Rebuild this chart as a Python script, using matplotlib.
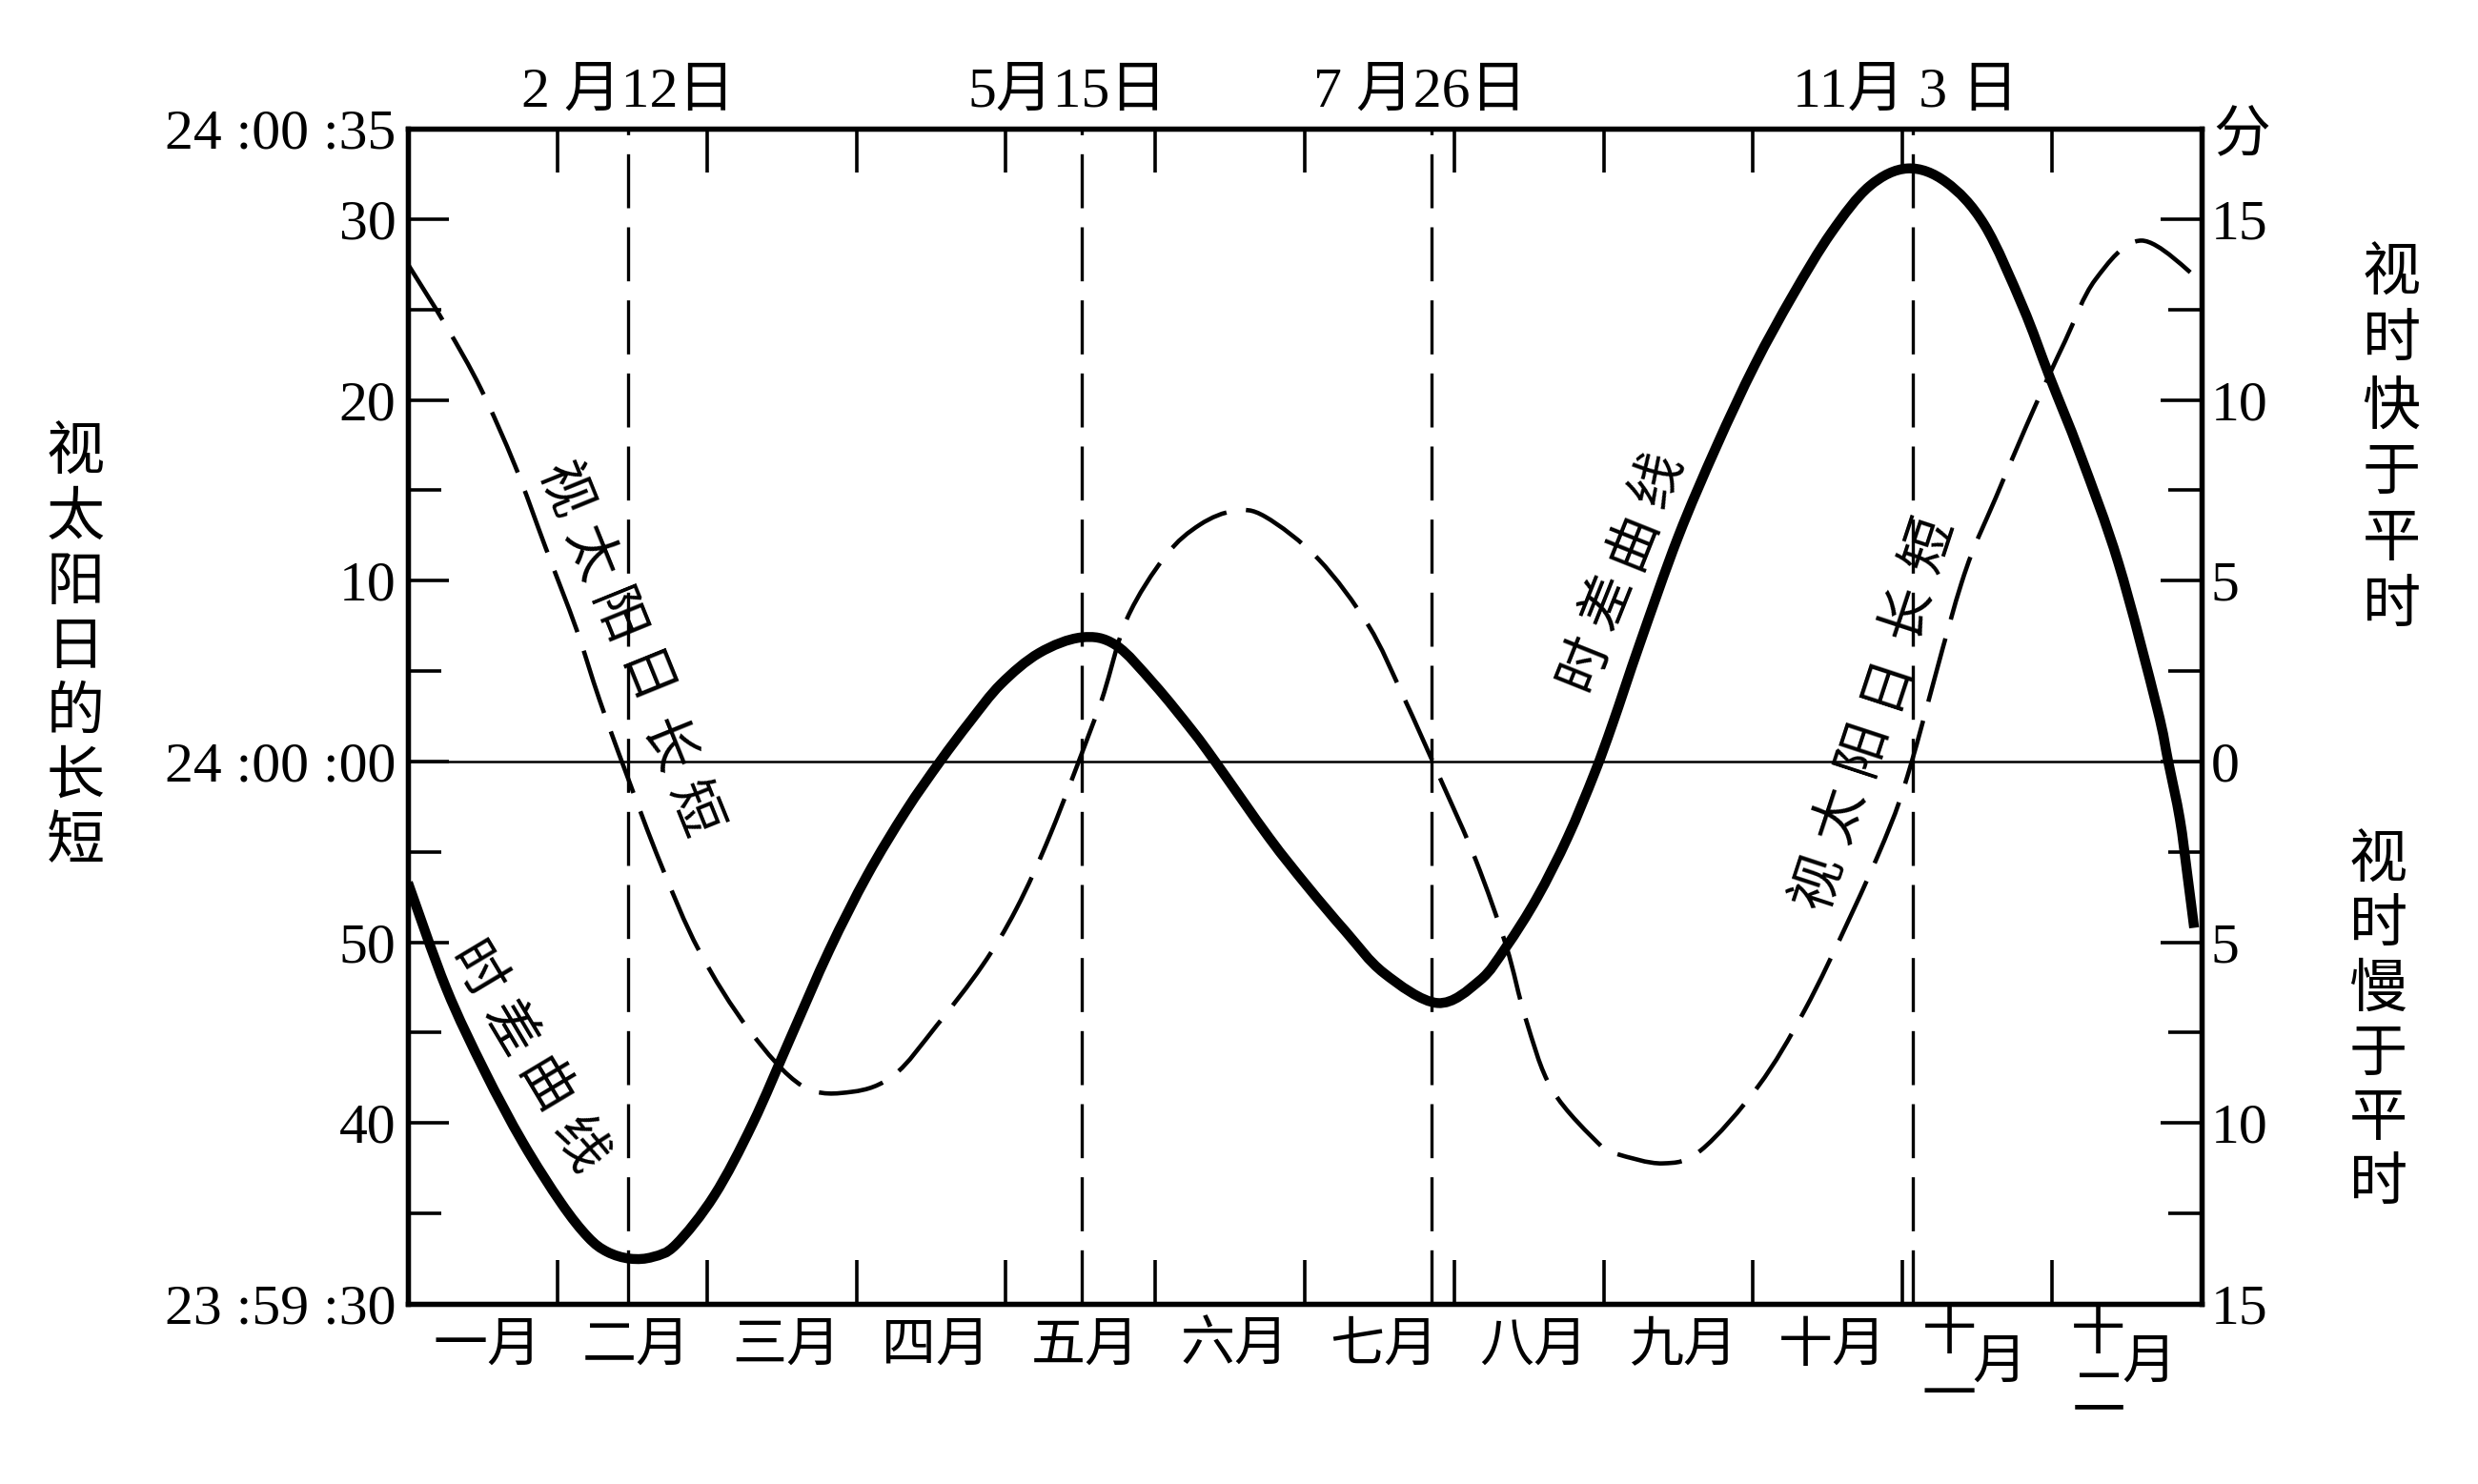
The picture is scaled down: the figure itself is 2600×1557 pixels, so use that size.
import numpy as np
import matplotlib
matplotlib.use("Agg")
import matplotlib.pyplot as plt
from matplotlib.path import Path
from matplotlib.patches import PathPatch

plt.rcParams['font.family'] = ['Liberation Serif', 'Noto Sans CJK SC']

# ---------------- data (x in month units: 0 = Jan 1, 12 = Dec 31) ----------------
# 时差曲线 : equation of time, minutes (right axis)
eot_month = [0.000, 0.256, 0.513, 0.769, 1.025, 1.204, 1.333, 1.486, 1.640, 1.793,
             2.050, 2.306, 2.562, 2.819, 3.074, 3.331, 3.560, 3.760, 3.967, 4.223,
             4.505, 4.735, 4.992, 5.248, 5.402, 5.760, 6.017, 6.273, 6.529, 6.888,
             7.170, 7.349, 7.554, 7.759, 7.938, 8.061, 8.241, 8.497, 8.753, 9.010,
             9.266, 9.522, 9.778, 10.034, 10.291, 10.547, 10.803, 10.983, 11.188, 11.444,
             11.701, 11.777, 11.854, 11.905, 11.950]
eot_minutes = [-3.35, -6.27, -8.56, -10.54, -12.21, -13.15, -13.56, -13.75, -13.70, -13.36,
               -12.00, -10.02, -7.62, -5.22, -3.14, -1.37, 0.00, 1.10, 2.14, 3.00,
               3.43, 3.22, 2.14, 0.85, -0.01, -2.10, -3.45, -4.70, -5.85, -6.68,
               -6.06, -5.12, -3.77, -2.10, -0.33, 1.06, 3.25, 6.20, 8.70, 10.96,
               12.90, 14.62, 15.91, 16.40, 16.02, 14.84, 12.58, 10.64, 8.49, 5.48,
               1.50, -0.01, -1.58, -3.14, -4.60]

# 视太阳日长短 : length of apparent solar day minus 24 h, seconds (left axis)
day_month = [0.000, 0.256, 0.487, 0.718, 0.922, 1.128, 1.281, 1.460, 1.691, 1.947,
             2.281, 2.639, 2.972, 3.254, 3.536, 3.843, 4.070, 4.300, 4.582, 4.659,
             4.813, 5.069, 5.299, 5.530, 5.735, 6.094, 6.427, 6.657, 6.913, 7.144,
             7.349, 7.477, 7.656, 7.985, 8.088, 8.395, 8.651, 9.035, 9.343, 9.650,
             9.906, 10.060, 10.394, 10.624, 10.881, 11.085, 11.290, 11.598, 11.982]
day_seconds = [27.5, 24.08, 20.63, 16.33, 11.81, 7.30, 3.43, -0.65, -5.66, -10.45,
               -14.83, -17.95, -18.27, -17.33, -14.62, -11.29, -8.16, -3.99, 2.06, 3.85,
               7.94, 11.38, 13.10, 13.86, 13.54, 11.17, 7.51, 3.64, -1.07, -5.45,
               -10.24, -14.20, -18.17, -21.29, -21.71, -22.23, -21.50, -17.95, -13.78, -8.58,
               -3.78, -0.03, 9.88, 14.61, 19.56, 23.22, 26.66, 28.81, 26.66]

month_labels = ['一月', '二月', '三月', '四月', '五月', '六月', '七月', '八月', '九月', '十月']
stacked_month_labels = [('十', '一', '月'), ('十', '二', '月')]

event_month = [1.47, 4.51, 6.85, 10.07]
event_labels = ['2 月12日', '5月15日', '7 月26日', '11月 3 日']
event_label_x = [1.473, 4.41, 6.77, 10.02]

left_ticks = [35, 30, 20, 10, 0, -10, -20, -30]
left_labels = ['24 :00 :35', '30', '20', '10', '24 :00 :00', '50', '40', '23 :59 :30']
left_minor = [25, 15, 5, -5, -15, -25]
right_ticks = [15, 10, 5, 0, -5, -10, -15]
right_labels = ['15', '10', '5', '0', '5', '10', '15']
right_minor = [12.5, 7.5, 2.5, -2.5, -7.5, -12.5]

left_title = '视太阳日的长短'
right_title_up = '视时快于平时'
right_title_down = '视时慢于平时'
unit_label = '分'

# ---------------- figure ----------------
W, H = 2600, 1557
fig = plt.figure(figsize=(W / 100, H / 100), dpi=100)
fig.patch.set_facecolor('white')
ax = fig.add_axes([428 / W, 1 - 1368 / H, (2310 - 428) / W, (1368 - 135) / H])
ax.set_xlim(0, 12)
ax.set_ylim(-30, 35)
ax2 = ax.twinx()
ax2.set_ylim(-15, 17.5)

for a in (ax, ax2):
    for s in a.spines.values():
        s.set_linewidth(3.8)
        s.set_color('black')

FS = 43
ax.set_yticks(left_ticks)
ax.set_yticklabels(left_labels, fontsize=FS)
ax.set_yticks(left_minor, minor=True)
ax.tick_params(axis='y', which='major', direction='in', length=31, width=2.6,
               left=True, right=False, pad=9)
ax.tick_params(axis='y', which='minor', direction='in', length=25, width=2.6,
               left=True, right=False)

ax2.set_yticks(right_ticks)
ax2.set_yticklabels(right_labels, fontsize=FS)
ax2.set_yticks(right_minor, minor=True)
ax2.tick_params(axis='y', which='major', direction='in', length=31, width=2.6, pad=7)
ax2.tick_params(axis='y', which='minor', direction='in', length=25, width=2.6)

ax.set_xticks(range(1, 12))
ax.tick_params(axis='x', which='major', direction='in', length=33, width=2.6,
               top=True, bottom=True, labelbottom=False, labeltop=False)

# reference lines
ax.axhline(0, color='black', lw=1.8, zorder=1)
for m in event_month:
    ax.axvline(m, color='black', lw=2.4, dashes=(17, 6), zorder=1)


# smooth curves through the read points (Bezier segments, Catmull-Rom tangents)
def smooth_path(xs, ys):
    p = np.column_stack([xs, ys]).astype(float)
    n = len(p)
    verts = [p[0]]
    codes = [Path.MOVETO]
    for i in range(n - 1):
        p0 = p[i - 1] if i > 0 else p[i]
        p1 = p[i]
        p2 = p[i + 1]
        p3 = p[i + 2] if i + 2 < n else p[i + 1]
        c1 = p1 + (p2 - p0) / 6.0
        c2 = p2 - (p3 - p1) / 6.0
        verts += [c1, c2, p2]
        codes += [Path.CURVE4] * 3
    return Path(verts, codes)


ax.add_patch(PathPatch(smooth_path(day_month, day_seconds), fill=False,
                       edgecolor='black', lw=3.3, linestyle=(0, (15, 4.5)),
                       capstyle='butt', zorder=3))
ax2.add_patch(PathPatch(smooth_path(eot_month, eot_minutes), fill=False,
                        edgecolor='black', lw=7.5, joinstyle='round',
                        capstyle='butt', zorder=4))

# month labels
xt = ax.get_xaxis_transform()
for i, lab in enumerate(month_labels):
    ax.text(i + 0.53, -0.037, lab, transform=xt, ha='center', va='center', fontsize=41)
for k, (a_, b_, c_) in enumerate(stacked_month_labels):
    i = 10 + k
    ax.text(i + 0.31, -0.027, a_, transform=xt, ha='center', va='center', fontsize=41)
    ax.text(i + 0.31, -0.080, b_, transform=xt, ha='center', va='center', fontsize=41)
    ax.text(i + 0.65, -0.052, c_, transform=xt, ha='center', va='center', fontsize=41)

# event date labels on top
for x, lab in zip(event_label_x, event_labels):
    ax.text(x, 1.030, lab, transform=xt, ha='center', va='center', fontsize=FS)

# unit label and side titles
fig.text(2352 / W, 1 - 145 / H, unit_label, ha='center', va='center', fontsize=FS)
for i, ch in enumerate(left_title):
    fig.text(79 / W, 1 - (478 + 68 * i) / H, ch, ha='center', va='center', fontsize=44)
for i, ch in enumerate(right_title_up):
    fig.text(2509 / W, 1 - (290 + 69.6 * i) / H, ch, ha='center', va='center', fontsize=44)
for i, ch in enumerate(right_title_down):
    fig.text(2495 / W, 1 - (906 + 67.6 * i) / H, ch, ha='center', va='center', fontsize=44)


# curve labels, one character at a time along a line (data coords of ax)
def curve_label(text, p0, p1, size=41):
    d0 = ax.transData.transform(p0)
    d1 = ax.transData.transform(p1)
    ang = np.degrees(np.arctan2(d1[1] - d0[1], d1[0] - d0[0]))
    n = len(text)
    for i, ch in enumerate(text):
        t = i / (n - 1)
        x = p0[0] + (p1[0] - p0[0]) * t
        y = p0[1] + (p1[1] - p0[1]) * t
        ax.text(x, y, ch, rotation=ang, rotation_mode='anchor', ha='center',
                va='center', fontsize=size, zorder=5)


curve_label('视太阳日长短', (1.027, 14.97), (1.894, -2.74))
curve_label('时差曲线', (0.434, -11.7), (1.129, -21.29))
curve_label('时差曲线', (7.876, 5.43), (8.367, 15.6))
curve_label('视太阳日长短', (9.445, -6.7), (10.185, 11.97))

fig.savefig('out.png', dpi=100, facecolor='white')
